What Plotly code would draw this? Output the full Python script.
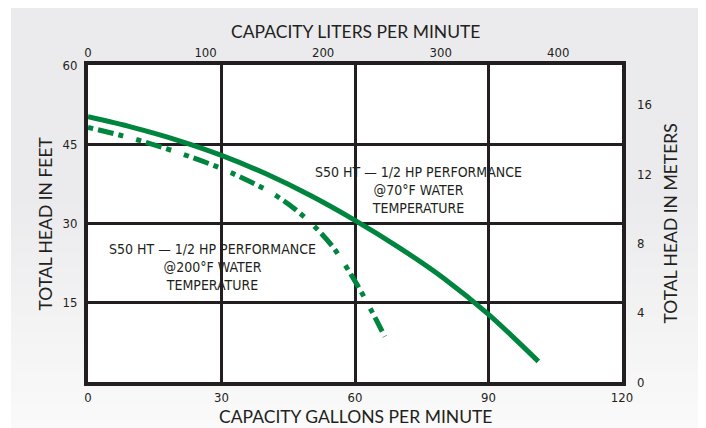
import plotly.graph_objects as go

# Data
gpm_70 = [0, 10, 20, 30, 40, 50, 60, 70, 80, 90, 101.2]
head_70 = [50.2, 48.2, 45.8, 42.9, 39.4, 35.3, 30.6, 25.4, 19.6, 12.8, 3.9]
gpm_200 = [0, 10, 20, 30, 40, 45, 50, 55, 60, 63, 66.7]
head_200 = [48.2, 46.1, 43.5, 40.4, 36.4, 33.7, 30.2, 25.6, 19.1, 14.6, 8.6]

gpm_ticks = [0, 30, 60, 90, 120]
feet_ticks = [15, 30, 45, 60]
lpm_ticks = [0, 100, 200, 300, 400]
meter_ticks = [0, 4, 8, 12, 16]

GAL_TO_L = 3.785
FT_PER_M = 3.281

green = "#00853f"
ink = "#231f20"
tickfont = dict(family="DejaVu Sans Condensed, sans-serif", size=13, color=ink)
titlefont = dict(family="Lato, Open Sans, sans-serif", size=17.5, color=ink)
notefont = dict(family="DejaVu Sans Condensed, sans-serif", size=14, color=ink)

W, H = 698, 420
L, R, T, B = 80, 84, 57, 46
PW, PH = W - L - R, H - T - B


def px_to_paper_x(fx):
    return (fx - L) / PW


def px_to_paper_y(fy):
    return (H - B - fy) / PH


fig = go.Figure()
fig.add_trace(go.Scatter(x=gpm_70, y=head_70, mode="lines",
                         line=dict(color=green, width=5, shape="spline", smoothing=0.9),
                         showlegend=False, hoverinfo="skip"))
fig.add_trace(go.Scatter(x=gpm_200, y=head_200, mode="lines",
                         line=dict(color=green, width=5, shape="spline", smoothing=0.8,
                                   dash="5px,5px,16px,5px,5px,14px"),
                         showlegend=False, hoverinfo="skip"))
# invisible traces to activate secondary axes
fig.add_trace(go.Scatter(x=[0], y=[None], xaxis="x2", yaxis="y", showlegend=False, hoverinfo="skip"))
fig.add_trace(go.Scatter(x=[0], y=[None], xaxis="x", yaxis="y2", showlegend=False, hoverinfo="skip"))

# grey panel with a soft fade to near-white at the bottom
shapes = []
x0p, x1p = px_to_paper_x(3), px_to_paper_x(695)
top_rgb = (235, 235, 237)
bot_rgb = (250, 250, 250)
fade_start, fade_end = 192, 420
shapes.append(dict(type="rect", xref="paper", yref="paper", x0=x0p, x1=x1p,
                   y0=px_to_paper_y(fade_start), y1=px_to_paper_y(0),
                   fillcolor="rgb(%d,%d,%d)" % top_rgb, line_width=0, layer="below"))
n = 38
step = (fade_end - fade_start) / n
for i in range(n):
    t = (i + 0.5) / n
    c = tuple(round(a + (b - a) * t) for a, b in zip(top_rgb, bot_rgb))
    shapes.append(dict(type="rect", xref="paper", yref="paper", x0=x0p, x1=x1p,
                       y0=px_to_paper_y(fade_start + (i + 1) * step + 0.5),
                       y1=px_to_paper_y(fade_start + i * step),
                       fillcolor="rgb(%d,%d,%d)" % c, line_width=0, layer="below"))
# white plotting area on top of the panel
shapes.append(dict(type="rect", xref="x", yref="y", x0=0, x1=120, y0=0, y1=60,
                   fillcolor="white", line_width=0, layer="below"))

fig.update_layout(
    width=W, height=H,
    margin=dict(l=L, r=R, t=T, b=B),
    paper_bgcolor="white",
    plot_bgcolor="white",
    shapes=shapes,
    xaxis=dict(range=[0, 120], tickvals=gpm_ticks, ticks="", showgrid=True, gridcolor=ink, gridwidth=3,
               showline=True, linecolor=ink, linewidth=4, mirror=True, zeroline=False,
               tickfont=tickfont, ticklabelstandoff=0),
    yaxis=dict(range=[0, 60], tickvals=feet_ticks, ticks="", showgrid=True, gridcolor=ink, gridwidth=3,
               showline=True, linecolor=ink, linewidth=4, mirror=True, zeroline=False,
               tickfont=tickfont, ticklabelstandoff=4),
    xaxis2=dict(range=[0, 120 * GAL_TO_L], tickvals=lpm_ticks, overlaying="x", side="top", showgrid=False,
                ticks="", zeroline=False, tickfont=tickfont, showline=False, ticklabelstandoff=4),
    yaxis2=dict(range=[0, 60 / FT_PER_M], tickvals=meter_ticks, overlaying="y", side="right", showgrid=False,
                ticks="", zeroline=False, tickfont=tickfont, showline=False, ticklabelstandoff=14),
)

annotations = [
    dict(text="CAPACITY LITERS PER MINUTE", x=0.5, y=1, xref="paper", yref="paper", yshift=34,
         yanchor="middle", showarrow=False, font=titlefont),
    dict(text="CAPACITY GALLONS PER MINUTE", x=0.5, y=0, xref="paper", yref="paper", yshift=-34,
         yanchor="middle", showarrow=False, font=titlefont),
    dict(text="TOTAL HEAD IN FEET", x=0, y=0.5, xref="paper", yref="paper", xshift=-43,
         xanchor="center", showarrow=False, textangle=-90, font=titlefont),
    dict(text="TOTAL HEAD IN METERS", x=1, y=0.5, xref="paper", yref="paper", xshift=48,
         xanchor="center", showarrow=False, textangle=-90, font=titlefont),
    dict(text="S50 HT — 1/2 HP PERFORMANCE<br>@70°F WATER<br>TEMPERATURE", x=74.3, y=36.3, xref="x", yref="y",
         showarrow=False, font=notefont, align="center"),
    dict(text="S50 HT — 1/2 HP PERFORMANCE<br>@200°F WATER<br>TEMPERATURE", x=28, y=21.8, xref="x", yref="y",
         showarrow=False, font=notefont, align="center"),
]
fig.update_layout(annotations=annotations)

fig.write_html("out.html")
